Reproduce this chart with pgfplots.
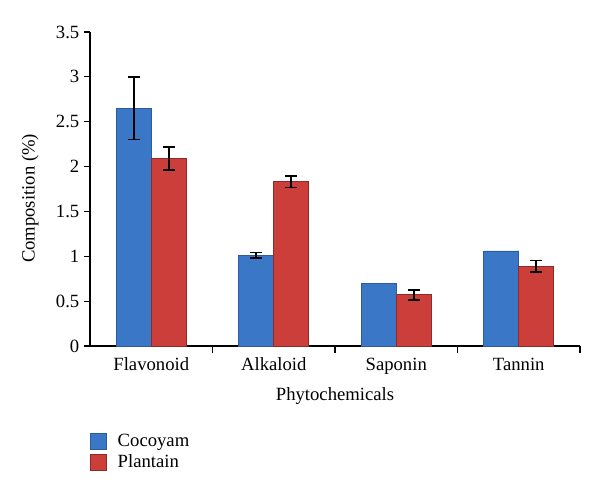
\documentclass[border=0pt]{standalone}
\usepackage{fontspec}
\setmainfont{Liberation Serif}
\usepackage{pgfplots}
\pgfplotsset{compat=1.18}
\definecolor{cblue}{HTML}{3B77C7}
\definecolor{cblued}{HTML}{2A5C9E}
\definecolor{cred}{HTML}{CB3E3A}
\definecolor{credd}{HTML}{8E2A27}
\begin{document}
\begin{tikzpicture}[x=1pt,y=1pt]
\begin{axis}[
  name=ax,
  at={(0,0)}, anchor=south west,
  scale only axis,
  width=367.5pt, height=235.5pt,
  xmin=-0.5, xmax=3.5,
  ymin=0, ymax=3.5,
  axis lines*=left,
  axis line style={line width=0.8pt},
  ytick={0,0.5,1,1.5,2,2.5,3,3.5},
  yticklabels={0,0.5,1,1.5,2,2.5,3,3.5},
  xtick={0,1,2,3},
  xticklabels={Flavonoid,Alkaloid,Saponin,Tannin},
  minor xtick={0.5,1.5,2.5,3.5},
  major x tick style={draw=none},
  minor tick length=5pt,
  major tick length=4.5pt,
  tick align=outside,
  tick style={black, line width=0.8pt},
  /pgf/number format/assume math mode=true,
  tick label style={font=\fontsize{14}{16}\selectfont},
  xticklabel style={yshift=-1pt},
  xlabel={Phytochemicals},
  ylabel={Composition (\%)},
  label style={font=\fontsize{14}{16}\selectfont},
  xlabel style={at={(axis description cs:0.5,-0.118)}, anchor=north},
  ylabel style={at={(axis description cs:-0.122,0.47)}, anchor=center, rotate=0},
  bar width=0.285,
  legend style={at={(axis description cs:0.0,-0.262)}, anchor=north west, xshift=-3pt, draw=none, fill=none,
    font=\fontsize{14}{16}\selectfont, row sep=1pt, legend cell align=left,
    /tikz/every odd column/.append style={column sep=6pt}},
  legend image code/.code={\path[#1] (0pt,-6pt) rectangle (12pt,6pt);},
  clip=false,
]
\addplot[ybar, bar shift=-0.1425, draw=cblued, fill=cblue, line width=0.6pt]
  coordinates {(0,2.65) (1,1.01) (2,0.70) (3,1.06)};
\addlegendentry{Cocoyam}
\addplot[ybar, bar shift=0.1425, draw=credd, fill=cred, line width=0.6pt]
  coordinates {(0,2.09) (1,1.83) (2,0.57) (3,0.89)};
\addlegendentry{Plantain}
\addplot[draw=none, mark=none, forget plot,
  error bars/.cd, y dir=both, y explicit,
  error bar style={black, line width=1.2pt},
  error mark options={rotate=90, mark size=4.5pt, black, line width=1.2pt}]
  coordinates {(-0.1425,2.65) +- (0,0.35) (0.8575,1.01) +- (0,0.03)};
\addplot[draw=none, mark=none, forget plot,
  error bars/.cd, y dir=both, y explicit,
  error bar style={black, line width=1.2pt},
  error mark options={rotate=90, mark size=4.5pt, black, line width=1.2pt}]
  coordinates {(0.1425,2.09) +- (0,0.13) (1.1425,1.83) +- (0,0.065) (2.1425,0.57) +- (0,0.055) (3.1425,0.89) +- (0,0.065)};
\end{axis}
\path (ax.south west) ++(-67.5pt,-115.5pt) coordinate (bl);
\path (ax.north east) ++(15pt,24pt) coordinate (tr);
\path (bl) rectangle (tr);
\end{tikzpicture}
\end{document}
